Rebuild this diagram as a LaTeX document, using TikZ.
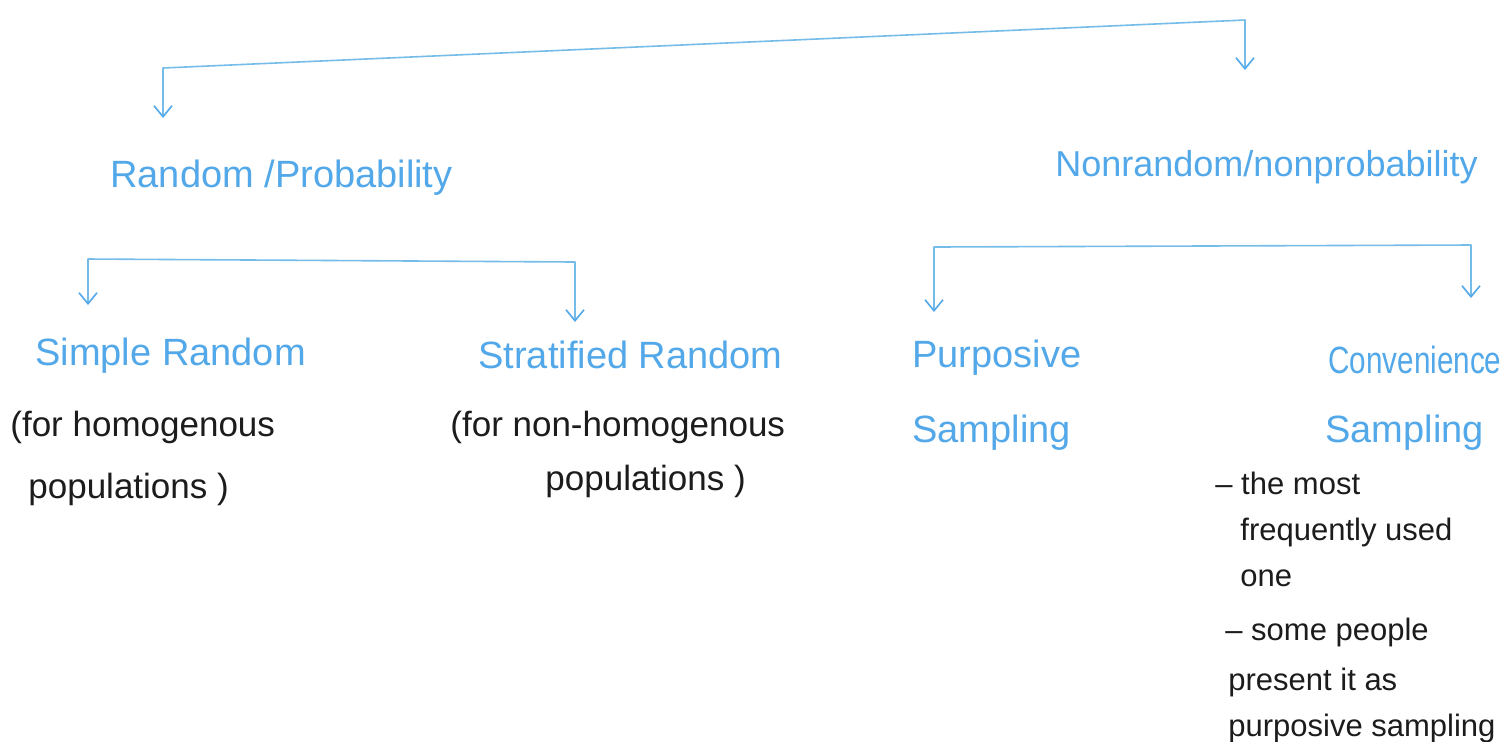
\documentclass[tikz,border=0pt]{standalone}
\usepackage{fontspec}
\setmainfont{Liberation Sans}
\usetikzlibrary{arrows.meta}

\definecolor{penblue}{RGB}{82,168,232}
\definecolor{lineblue}{RGB}{118,188,232}
\definecolor{ink}{RGB}{28,28,28}

\tikzset{
  heading/.style={text=penblue, inner sep=0pt, anchor=north west, align=left,
    font=\fontsize{19}{33}\selectfont},
  note/.style={text=ink, inner sep=0pt, anchor=north west, align=left},
  bracket/.style={draw=lineblue, line width=0.8pt, line join=round,
    {Straight Barb[length=5.5pt,width=9pt,line width=0.8pt,color=penblue]}-{Straight Barb[length=5.5pt,width=9pt,line width=0.8pt,color=penblue]}}
}

\begin{document}
\begin{tikzpicture}[x=0.5pt, y=-0.5pt]
  \useasboundingbox (0,0) rectangle (1502,741);
  \clip (0,0) rectangle (1502,741);
  \fill[white] (0,0) rectangle (1502,741);

  % first level
  \node[heading] (random)    at (110,160)  {Random /Probability};
  \node[heading, font=\fontsize{18}{30}\selectfont] (nonrandom) at (1055,150) {Nonrandom/nonprobability};

  % second level
  \node[heading] (simple) at (35,338)   {Simple Random};
  \node[heading] (strat)  at (478,341)  {Stratified Random};
  \node[heading, font=\fontsize{19}{37.5}\selectfont] (purp) at (912,340)
    {Purposive\\Sampling};
  \node[heading, font=\fontsize{19}{34.5}\selectfont] (conv) at (1328,346)
    {\scalebox{0.78}[1]{Convenience}\\\hspace{-1.5pt}Sampling};

  % notes under the methods
  \node[note, font=\fontsize{17.5}{31}\selectfont] (homog) at (10,411)
    {(for homogenous\\\hspace{9pt}populations )};
  \node[note, font=\fontsize{17.5}{27}\selectfont] (nonhomog) at (450,411)
    {(for non-homogenous\\\hspace{47.5pt}populations )};
  \node[note, font=\fontsize{15.5}{23}\selectfont] (convnotes) at (1215,472)
    {-- the most\\
     \hspace{12.5pt}frequently used\\
     \hspace{12.5pt}one\\[4pt]
     \hspace{5pt}-- some people\\[2pt]
     \hspace{6.5pt}present it as\\
     \hspace{6.5pt}purposive sampling};

  % bend points of the brackets
  \coordinate (tl) at (163,68);
  \coordinate (tr) at (1245,20);
  \coordinate (l1) at (88,259);
  \coordinate (l2) at (575,262);
  \coordinate (r1) at (934,247);
  \coordinate (r2) at (1471,245);

  % connectors
  \draw[bracket, shorten <=21pt, shorten >=40pt]
    (tl |- random.north) -- (tl) -- (tr) -- (tr |- nonrandom.north);
  \draw[bracket, shorten <=16.5pt, shorten >=9.5pt]
    (l1 |- simple.north) -- (l1) -- (l2) -- (l2 |- strat.north);
  \draw[bracket, shorten <=14pt, shorten >=24pt]
    (r1 |- purp.north) -- (r1) -- (r2) -- (r2 |- conv.north);
\end{tikzpicture}
\end{document}
